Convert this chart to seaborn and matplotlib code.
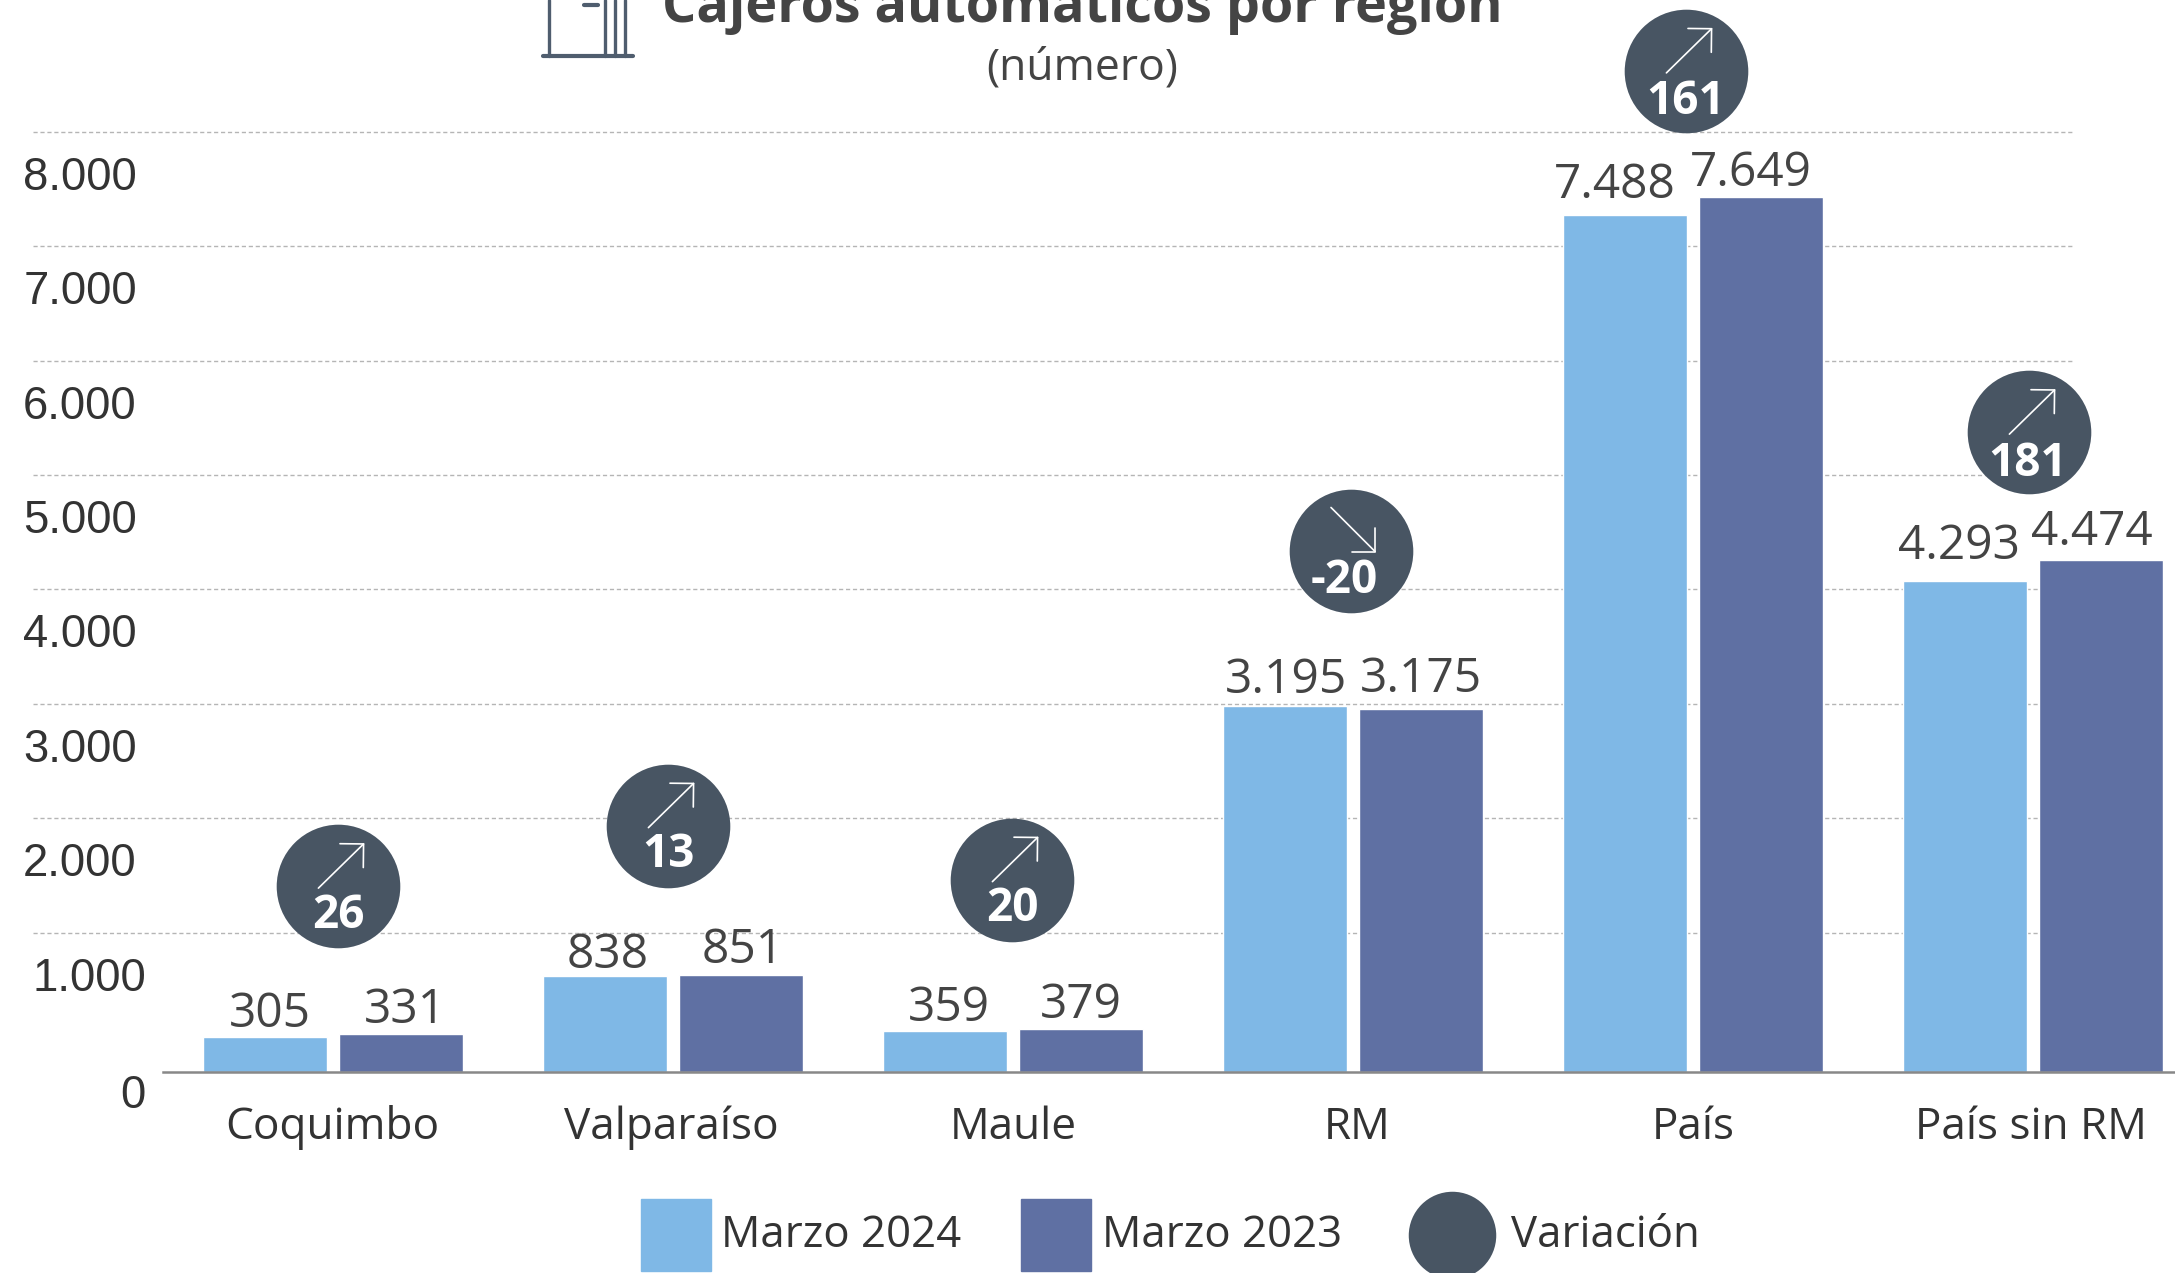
import matplotlib
matplotlib.use('Agg')
import pandas as pd
import seaborn as sns
import matplotlib.pyplot as plt
from matplotlib.lines import Line2D
from matplotlib.patches import Patch
from matplotlib.transforms import ScaledTranslation, offset_copy

# Chart values
regions = ['Coquimbo', 'Valparaíso', 'Maule', 'RM', 'País', 'País sin RM']
marzo_2024 = [305, 838, 359, 3195, 7488, 4293]
marzo_2023 = [331, 851, 379, 3175, 7649, 4474]
variacion = ['26', '13', '20', '-20', '161', '181']
y_ticks = [0, 1000, 2000, 3000, 4000, 5000, 6000, 7000, 8000]
y_tick_labels = ['0', '1.000', '2.000', '3.000', '4.000', '5.000', '6.000', '7.000', '8.000']

# Hand placed items in the original, nudges in pixels
bubble_dx = [5.4, -4.6, -0.6, -2, -6.6, -3.6]
bubble_dy = [148, 149, 149, 155, 126, 128]
bubble_text_dx = [0, 0, 0, -7, -1, -2]
bubble_text_dy = [-29, -29, -29, -29, -31, -31]
x_label_dx = [-1, -2, 0, 4, 0, -2]
label_nudge_2024 = [(5, 3), (3, 1), (4, 3), (1, 7), (-10, 10), (-6, 15)]
label_nudge_2023 = [(4, 4), (2, 5), (0, 4), (0, 10), (-10, 4), (-9, 8)]

W, H = 2175, 1273
LIGHT = '#7FB8E6'
DARK = '#5F70A3'
BUBBLE = '#485563'
TEXT = '#444444'
AXIS_TEXT = '#333333'

sns.set_theme(style='white')
plt.rcParams['font.family'] = ['Open Sans', 'DejaVu Sans']

data = pd.DataFrame({
    'region': regions * 2,
    'cajeros': marzo_2024 + marzo_2023,
    'periodo': ['Marzo 2024'] * len(regions) + ['Marzo 2023'] * len(regions),
})

fig = plt.figure(figsize=(W / 100, H / 100), dpi=100)
ax = fig.add_axes([163 / W, (H - 1072) / H, 2040 / W, 1072 / H])

sns.barplot(data=data, x='region', y='cajeros', hue='periodo', order=regions,
            hue_order=['Marzo 2024', 'Marzo 2023'], palette=[LIGHT, DARK],
            width=0.8, gap=0.095, saturation=1, legend=False, ax=ax)

ax.set_xlim(-0.5, 5.5)
ax.set_ylim(0, 9370)
ax.set_xlabel('')
ax.set_ylabel('')
px_per_unit = 1072 / 9370

# The dashed lines sit a little above the real tick values in the original
grid_shift = 25 / px_per_unit
ax.hlines([t + grid_shift for t in y_ticks[1:]], -0.0635, 0.937,
          transform=ax.get_yaxis_transform(), colors='#b5b5b5', linewidth=1.0,
          linestyles=(0, (3, 2)), clip_on=False, zorder=0)

sns.despine(ax=ax, left=True, top=True, right=True)
ax.spines['bottom'].set_color('#888888')
ax.spines['bottom'].set_linewidth(1.8)

# Value labels
for container, nudges in zip(ax.containers, [label_nudge_2024, label_nudge_2023]):
    labels = ax.bar_label(container, fmt=lambda v: f'{v:,.0f}'.replace(',', '.'), padding=-3,
                          fontsize=34.5, color=TEXT)
    for lab, (dx, dy) in zip(labels, nudges):
        lab.xyann = (dx * 0.72, -3 + dy * 0.72)

# Axis labels
ax.set_yticks(y_ticks)
ax.set_yticklabels(y_tick_labels, family='Liberation Sans', fontsize=32.8, color=AXIS_TEXT)
ax.tick_params(axis='y', length=0, pad=14.5)
ax.tick_params(axis='x', length=0, pad=24, labelsize=31.8, labelcolor=AXIS_TEXT)
for tick, label in zip(y_ticks, ax.get_yticklabels()):
    dx = 3 if tick <= 1000 else -6
    dy = -19 if tick == 0 else -16
    label.set_transform(label.get_transform() + ScaledTranslation(dx / 100, dy / 100, fig.dpi_scale_trans))
for dx, label in zip(x_label_dx, ax.get_xticklabels()):
    label.set_transform(label.get_transform() + ScaledTranslation(dx / 100, 0, fig.dpi_scale_trans))

# Variation bubbles
for i, text in enumerate(variacion):
    top = max(marzo_2024[i], marzo_2023[i])
    y = top + bubble_dy[i] / px_per_unit
    base = offset_copy(ax.transData, fig=fig, x=bubble_dx[i], y=0, units='dots')
    ax.scatter([i], [y], s=89 ** 2, color=BUBBLE, linewidth=0, clip_on=False, zorder=5, transform=base)
    if text.startswith('-'):
        tip = offset_copy(base, fig=fig, x=25, y=-1, units='dots')
        start = (-45 * 0.72, 45 * 0.72)
    else:
        tip = offset_copy(base, fig=fig, x=26, y=43, units='dots')
        start = (-46 * 0.72, -45 * 0.72)
    ax.annotate('', xy=(i, y), xycoords=tip, xytext=start, textcoords='offset points',
                arrowprops=dict(arrowstyle='->,head_length=12,head_width=12', mutation_scale=1,
                                color='white', lw=1.2, shrinkA=0, shrinkB=0),
                annotation_clip=False, zorder=6)
    text_pos = offset_copy(base, fig=fig, x=bubble_text_dx[i], y=bubble_text_dy[i], units='dots')
    ax.text(i, y, text, transform=text_pos, ha='center', va='center', fontsize=33,
            fontweight='bold', color='white', zorder=7, clip_on=False)

# Title, partly cut by the top of the image as in the original
fig.text(1082 / W, 1 - 22 / H, 'Cajeros automáticos por región', ha='center', va='baseline',
         fontsize=38.8, fontweight='bold', color=TEXT)
fig.text(1082 / W, 1 - 68 / H, '(número)', ha='center', va='center', fontsize=32, color=TEXT)

# ATM icon
icon_color = '#4F5D6E'
for x in [549, 605, 615, 625]:
    fig.add_artist(Line2D([x / W, x / W], [1 - 56 / H, 1], color=icon_color, lw=2.4))
fig.add_artist(Line2D([543 / W, 633 / W], [1 - 56 / H, 1 - 56 / H], color=icon_color, lw=3))
fig.add_artist(Line2D([584 / W, 598 / W], [1 - 5 / H, 1 - 5 / H], color=icon_color, lw=3))

# Legend, two pieces because the bubble entry has its own spacing
leg_args = dict(frameon=False, fontsize=31.5, labelcolor=AXIS_TEXT, loc='lower left',
                borderpad=0, borderaxespad=0)
leg1 = fig.legend(handles=[Patch(color=LIGHT, label='Marzo 2024'), Patch(color=DARK, label='Marzo 2023')],
                  ncol=2, bbox_to_anchor=(640.5 / W, 0.0015), handlelength=1.6, handleheight=2.145,
                  handletextpad=0.25, columnspacing=1.36, **leg_args)
leg2 = fig.legend(handles=[Line2D([], [], linestyle='none', marker='o', markersize=63, color=BUBBLE,
                                  markeredgewidth=0, label='Variación')],
                  bbox_to_anchor=(1408 / W, -0.0055), handlelength=2.0, handleheight=2.05,
                  handletextpad=0.36, **leg_args)
for t in leg1.get_texts():
    t.set_y(1.5)
for t in leg2.get_texts():
    t.set_y(12.2)

fig.savefig('out.png', dpi=100)
